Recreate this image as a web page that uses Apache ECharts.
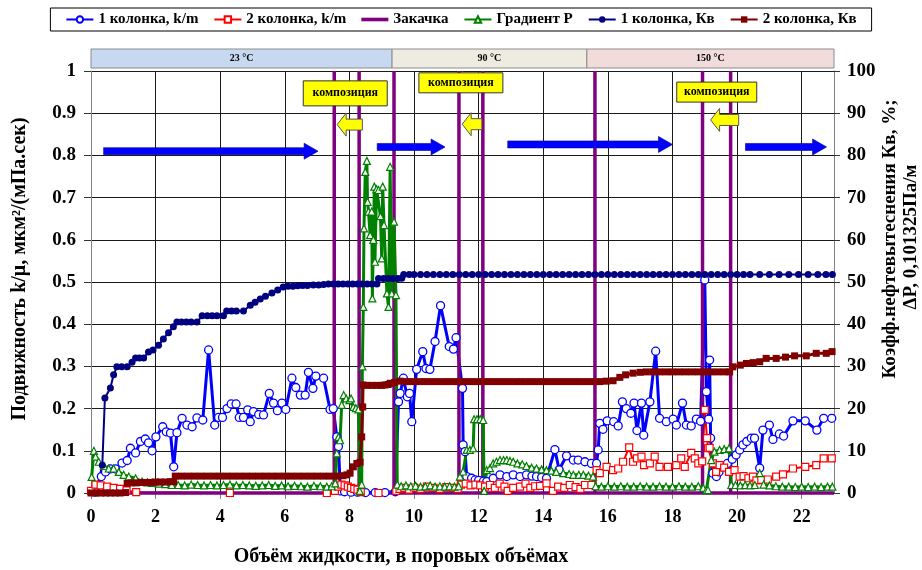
<!DOCTYPE html>
<html><head><meta charset="utf-8">
<script src="https://cdn.jsdelivr.net/npm/echarts/dist/echarts.min.js"></script>
<style>html,body{margin:0;padding:0;background:#fff}#c{width:922px;height:570px}</style>
</head><body><div id="c"></div>
<script>
const FF = 'Liberation Serif';
const seriesNames = ['1 колонка, k/m', '2 колонка, k/m', 'Закачка', 'Градиент P', '1 колонка, Кв', '2 колонка, Кв'];
const xTitle = 'Объём жидкости, в поровых объёмах';
const yLeftTitle = 'Подвижность k/μ, мкм²/(мПа.сек)';
const yRightTitle1 = 'Коэфф.нефтевытеснения Кв, %;';
const yRightTitle2 = 'ΔP, 0,101325Па/м';

// 1 колонка, k/m  (left axis)
const km1 = [[0.14,0.003],[0.32,0.039],[0.45,0.05],[0.6,0.057],[0.76,0.057],[0.96,0.071],[1.12,0.077],[1.22,0.106],[1.38,0.095],[1.53,0.122],[1.68,0.128],[1.78,0.119],[1.89,0.1],[2.01,0.133],[2.22,0.157],[2.33,0.145],[2.46,0.142],[2.56,0.062],[2.66,0.143],[2.82,0.177],[2.97,0.161],[3.13,0.157],[3.28,0.178],[3.46,0.173],[3.64,0.339],[3.83,0.161],[3.95,0.179],[4.07,0.179],[4.21,0.2],[4.34,0.211],[4.49,0.211],[4.59,0.179],[4.72,0.179],[4.85,0.197],[4.93,0.169],[5.03,0.193],[5.19,0.186],[5.34,0.185],[5.52,0.236],[5.65,0.213],[5.77,0.195],[5.91,0.213],[6.03,0.198],[6.22,0.272],[6.34,0.25],[6.48,0.232],[6.63,0.232],[6.73,0.286],[6.87,0.248],[6.96,0.277],[7.2,0.272],[7.4,0.198],[7.5,0.2],[7.61,0.133],[7.66,0.11],[7.72,0.005],[7.85,0.003],[8.05,0.002],[8.25,0.002],[8.5,0.001],[8.8,0.001],[9.1,0.001],[9.42,0.003],[9.52,0.216],[9.57,0.236],[9.67,0.272],[9.79,0.228],[9.86,0.236],[9.93,0.169],[10.08,0.293],[10.27,0.335],[10.37,0.295],[10.49,0.293],[10.65,0.359],[10.82,0.444],[11.09,0.347],[11.22,0.341],[11.3,0.368],[11.5,0.248],[11.52,0.114],[11.58,0.098],[11.63,0.039],[11.78,0.035],[11.89,0.031],[12.0,0.03],[12.15,0.028],[12.25,0.027],[12.45,0.035],[12.66,0.043],[12.87,0.039],[13.07,0.043],[13.28,0.039],[13.48,0.043],[13.65,0.04],[13.79,0.039],[13.95,0.037],[14.1,0.035],[14.36,0.103],[14.49,0.055],[14.72,0.088],[14.93,0.078],[15.08,0.078],[15.29,0.074],[15.49,0.07],[15.65,0.07],[15.7,0.102],[15.75,0.165],[15.85,0.151],[15.98,0.171],[16.18,0.169],[16.32,0.159],[16.45,0.216],[16.57,0.2],[16.71,0.189],[16.81,0.213],[16.9,0.148],[17.04,0.213],[17.11,0.137],[17.3,0.216],[17.48,0.336],[17.6,0.177],[17.81,0.169],[18.02,0.175],[18.12,0.161],[18.31,0.213],[18.43,0.161],[18.58,0.159],[18.74,0.175],[18.87,0.17],[19.0,0.505],[19.05,0.24],[19.12,0.175],[19.15,0.315],[19.18,0.13],[19.25,0.047],[19.36,0.039],[19.44,0.05],[19.56,0.062],[19.7,0.07],[19.85,0.08],[19.97,0.09],[20.08,0.102],[20.18,0.114],[20.3,0.122],[20.44,0.13],[20.54,0.13],[20.7,0.059],[20.8,0.149],[21.0,0.161],[21.11,0.127],[21.31,0.14],[21.44,0.135],[21.73,0.171],[22.11,0.171],[22.47,0.149],[22.68,0.177],[22.93,0.177]];

// 2 колонка, k/m  (left axis)
const km2 = [[0,0.005],[0.14,0.02],[0.3,0.018],[0.5,0.015],[0.7,0.012],[0.9,0.01],[1.1,0.006],[1.4,0.002],[4.3,0],[7.3,0],[7.55,0.005],[7.65,0.015],[7.75,0.02],[7.85,0.018],[7.95,0.015],[8.05,0.012],[8.15,0.01],[8.25,0.008],[8.35,0.002],[8.9,0],[9.45,0.005],[9.55,0.01],[9.7,0.012],[9.85,0.008],[10.0,0.013],[10.2,0.01],[10.4,0.015],[10.6,0.012],[10.8,0.01],[11.0,0.014],[11.2,0.012],[11.35,0.01],[11.45,0.02],[11.6,0.022],[11.75,0.018],[11.9,0.02],[12.05,0.018],[12.2,0.015],[12.35,0.019],[12.5,0.012],[12.65,0.022],[12.8,0.015],[12.9,0.005],[13.07,0.012],[13.28,0.015],[13.45,0.022],[13.6,0.012],[13.75,0.016],[13.9,0.017],[14.1,0.023],[14.3,0.005],[14.46,0.015],[14.65,0.012],[14.82,0.019],[15.0,0.014],[15.15,0.01],[15.29,0.019],[15.49,0.019],[15.65,0.054],[15.75,0.047],[15.96,0.062],[16.16,0.054],[16.32,0.058],[16.47,0.074],[16.66,0.108],[16.78,0.074],[16.9,0.082],[17.04,0.086],[17.12,0.066],[17.3,0.07],[17.45,0.086],[17.6,0.062],[17.86,0.062],[18.12,0.066],[18.27,0.082],[18.38,0.062],[18.58,0.095],[18.69,0.082],[18.8,0.07],[18.92,0.075],[19.0,0.197],[19.07,0.13],[19.1,0.106],[19.15,0.107],[19.25,0.07],[19.35,0.05],[19.46,0.066],[19.6,0.06],[19.75,0.05],[19.92,0.054],[20.08,0.039],[20.2,0.04],[20.35,0.035],[20.49,0.039],[20.6,0.03],[20.75,0.031],[20.95,0.032],[21.21,0.039],[21.42,0.044],[21.73,0.058],[22.11,0.062],[22.45,0.066],[22.68,0.082],[22.93,0.082]];

// Закачка: x positions of injection switches (left axis, 0..1)
const injectX = [7.53, 8.30, 9.38, 11.39, 12.13, 15.6, 18.93, 19.8];

// Градиент P (right axis)
const gradP = [[0.02,3.8],[0.09,10.0],[0.14,8.6],[0.24,7.4],[0.4,6.4],[0.55,5.8],[0.7,5.8],[0.86,5.0],[1.01,4.3],[1.17,3.9],[1.38,3.5],[1.58,2.7],[1.75,2.5],[1.89,2.4],[2.1,2.2],[2.3,2.1],[2.5,1.9],[2.7,1.9],[2.9,1.8],[3.1,2.0],[3.3,1.9],[3.5,1.8],[3.7,1.9],[3.9,1.8],[4.1,1.9],[4.3,2.0],[4.5,1.8],[4.7,1.9],[4.9,1.8],[5.1,1.7],[5.3,1.8],[5.5,1.9],[5.7,1.7],[5.9,1.8],[6.1,1.6],[6.3,1.7],[6.5,1.6],[6.7,1.5],[6.9,1.7],[7.1,1.6],[7.3,1.5],[7.45,1.6],[7.56,2.3],[7.61,9.4],[7.66,13.3],[7.71,12.5],[7.76,20.9],[7.82,23.2],[7.9,22.4],[8.0,22.0],[8.05,22.4],[8.12,20.4],[8.2,20.1],[8.28,19.8],[8.32,0.5],[8.38,2.0],[8.4,30.0],[8.43,44.1],[8.45,62.7],[8.49,76.1],[8.54,78.7],[8.56,69.0],[8.59,66.7],[8.64,61.1],[8.69,66.7],[8.71,46.1],[8.74,60.0],[8.77,72.6],[8.79,54.8],[8.84,72.0],[8.9,71.8],[8.96,65.6],[9.0,55.6],[9.03,72.6],[9.07,63.5],[9.16,47.3],[9.21,44.1],[9.26,77.3],[9.31,47.3],[9.38,64.3],[9.44,46.9],[9.48,2.0],[9.6,1.6],[9.75,1.8],[9.9,1.6],[10.05,1.7],[10.2,1.5],[10.35,1.6],[10.5,1.8],[10.65,1.5],[10.8,1.6],[10.95,1.5],[11.1,1.6],[11.25,1.5],[11.38,1.6],[11.42,3.9],[11.52,5.1],[11.63,10.2],[11.73,10.2],[11.83,10.6],[11.86,17.5],[11.95,17.5],[12.05,17.5],[12.14,17.3],[12.17,0.5],[12.25,5.4],[12.35,5.9],[12.45,7.0],[12.55,7.4],[12.66,7.8],[12.77,7.8],[12.87,7.8],[12.97,7.6],[13.07,7.4],[13.2,7.0],[13.35,6.8],[13.48,6.4],[13.64,6.0],[13.79,5.8],[13.95,5.6],[14.1,5.4],[14.25,5.3],[14.4,5.0],[14.62,4.7],[14.8,4.5],[14.93,4.3],[15.1,4.3],[15.24,4.3],[15.4,4.1],[15.54,3.9],[15.62,1.6],[15.8,1.5],[16.0,1.6],[16.2,1.5],[16.4,1.6],[16.6,1.5],[16.8,1.5],[17.0,1.6],[17.2,1.5],[17.4,1.5],[17.6,1.6],[17.8,1.5],[18.0,1.5],[18.2,1.6],[18.4,1.5],[18.6,1.5],[18.8,1.6],[18.95,1.2],[19.05,0.7],[19.1,0.7],[19.2,7.8],[19.3,9.8],[19.46,10.2],[19.6,10.4],[19.75,10.6],[19.82,1.9],[19.95,1.9],[20.1,1.8],[20.25,1.9],[20.4,1.8],[20.55,1.9],[20.7,4.7],[20.82,2.0],[21.0,1.8],[21.2,1.6],[21.4,1.5],[21.6,1.5],[21.8,1.4],[22.0,1.5],[22.2,1.4],[22.4,1.5],[22.6,1.4],[22.8,1.5],[22.95,1.5]];

// 1 колонка, Кв (right axis, %)
const kv1 = [[0.14,0],[0.35,6.6],[0.43,22.5],[0.6,24.9],[0.7,28],[0.8,29.9],[0.95,29.9],[1.12,29.9],[1.27,31],[1.38,32],[1.5,32],[1.63,32],[1.78,33.4],[1.92,33.9],[2.09,35],[2.24,36.5],[2.4,38],[2.55,39.4],[2.66,40.5],[2.8,40.5],[2.95,40.5],[3.1,40.5],[3.28,40.5],[3.44,42],[3.6,42],[3.75,42],[3.9,42],[4.1,42],[4.2,43.1],[4.35,43.1],[4.5,43.1],[4.72,43.1],[4.93,44.5],[5.08,45.2],[5.24,46],[5.4,46.6],[5.6,47.4],[5.78,48.1],[5.95,48.8],[6.1,49],[6.25,49],[6.4,49.1],[6.55,49.2],[6.7,49.2],[6.88,49.3],[7.05,49.3],[7.2,49.4],[7.35,49.5],[7.5,49.5],[7.65,49.5],[7.8,49.5],[7.95,49.5],[8.1,49.5],[8.25,49.5],[8.4,49.5],[8.55,49.5],[8.7,49.5],[8.85,49.5],[8.9,50.8],[9.05,50.8],[9.2,50.8],[9.35,50.8],[9.5,50.8],[9.62,50.9],[9.68,51.8],[9.85,51.8],[10.0,51.8],[10.2,51.8],[10.4,51.8],[10.6,51.8],[10.8,51.8],[11.0,51.8],[11.2,51.8],[11.4,51.8],[11.6,51.8],[11.8,51.8],[12.0,51.8],[12.2,51.8],[12.4,51.8],[12.6,51.8],[12.8,51.8],[13.0,51.8],[13.2,51.8],[13.4,51.8],[13.6,51.8],[13.8,51.8],[14.0,51.8],[14.2,51.8],[14.4,51.8],[14.6,51.8],[14.8,51.8],[15.0,51.8],[15.2,51.8],[15.4,51.8],[15.6,51.8],[15.8,51.8],[16.0,51.8],[16.2,51.8],[16.4,51.8],[16.6,51.8],[16.8,51.8],[17.0,51.8],[17.2,51.8],[17.4,51.8],[17.6,51.8],[17.8,51.8],[18.0,51.8],[18.2,51.8],[18.4,51.8],[18.6,51.8],[18.8,51.8],[19.0,51.8],[19.2,51.8],[19.4,51.8],[19.6,51.8],[19.8,51.8],[20.0,51.8],[20.2,51.8],[20.4,51.8],[20.7,51.8],[21.0,51.8],[21.3,51.8],[21.6,51.8],[21.9,51.8],[22.2,51.8],[22.5,51.8],[22.75,51.8],[22.95,51.8]];

// 2 колонка, Кв (right axis, %)
const kv2 = [[0,0],[0.15,0],[0.3,0],[0.45,0],[0.6,0],[0.75,0],[0.9,0],[1.07,0.1],[1.12,2.3],[1.25,2.4],[1.4,2.4],[1.55,2.5],[1.7,2.5],[1.85,2.5],[2.0,2.6],[2.15,2.6],[2.3,2.6],[2.45,2.7],[2.56,2.7],[2.61,4.0],[2.8,4.0],[3.0,4.0],[3.2,4.0],[3.4,4.0],[3.6,4.0],[3.8,4.0],[4.0,4.0],[4.2,4.0],[4.4,4.0],[4.6,4.0],[4.8,4.0],[5.0,4.0],[5.2,4.0],[5.4,4.0],[5.6,4.0],[5.8,4.0],[6.0,4.0],[6.2,4.0],[6.4,4.0],[6.6,4.0],[6.8,4.0],[7.0,4.0],[7.2,4.0],[7.4,4.0],[7.6,4.0],[7.8,4.1],[7.92,4.3],[8.02,4.7],[8.12,6.2],[8.23,7.0],[8.33,7.3],[8.38,13.3],[8.41,20.4],[8.42,25.6],[8.55,25.5],[8.7,25.5],[8.85,25.5],[9.0,25.5],[9.1,25.6],[9.2,25.7],[9.26,26.0],[9.4,26.2],[9.57,26.5],[9.75,26.4],[9.95,26.4],[10.15,26.4],[10.35,26.4],[10.55,26.4],[10.75,26.4],[10.95,26.4],[11.15,26.4],[11.35,26.4],[11.55,26.4],[11.75,26.4],[11.95,26.4],[12.15,26.4],[12.35,26.4],[12.55,26.4],[12.75,26.4],[12.95,26.4],[13.15,26.4],[13.35,26.4],[13.55,26.4],[13.75,26.4],[13.95,26.4],[14.15,26.4],[14.35,26.4],[14.55,26.4],[14.75,26.4],[14.95,26.4],[15.15,26.4],[15.35,26.4],[15.55,26.4],[15.75,26.4],[15.95,26.5],[16.16,26.6],[16.37,27.4],[16.55,28.0],[16.78,28.4],[17.0,28.6],[17.19,28.7],[17.4,28.7],[17.6,28.7],[17.8,28.7],[18.0,28.7],[18.2,28.7],[18.4,28.7],[18.6,28.7],[18.8,28.7],[19.0,28.7],[19.2,28.7],[19.4,28.7],[19.6,28.7],[19.77,28.7],[19.87,29.9],[20.1,30.3],[20.29,30.7],[20.5,30.9],[20.7,31.1],[20.9,31.9],[21.21,31.9],[21.5,32.2],[21.78,32.5],[22.14,32.5],[22.45,33.1],[22.76,33.1],[22.94,33.5]];

// annotations (data coordinates: x, left-axis value)
const tempBands = [
  {from: 0, to: 9.32, label: '23 °C', color: '#c6d9f1'},
  {from: 9.32, to: 15.35, label: '90 °C', color: '#eeece1'},
  {from: 15.35, to: 23, label: '150 °C', color: '#f2dcdb'}
];
const compBoxes = [{x: 7.87, y: 0.947, w: 84, h: 25}, {x: 11.45, y: 0.972, w: 84, h: 20}, {x: 19.37, y: 0.95, w: 80, h: 20}];
const compText = 'композиция';
const yellowArrows = [{x1: 7.62, x2: 8.4, y: 0.873}, {x1: 11.49, x2: 12.1, y: 0.874}, {x1: 19.18, x2: 20.05, y: 0.884}];
const blueArrows = [{x1: 0.39, x2: 7.03, y: 0.81}, {x1: 8.86, x2: 10.96, y: 0.82}, {x1: 12.9, x2: 18.0, y: 0.826}, {x1: 20.26, x2: 22.77, y: 0.82}];

const injection = [[0, 0]];
injectX.forEach(x => injection.push([x, 0], [x, 1], [x, 0]));
injection.push([23, 0]);

const lblFont = {fontFamily: FF, fontWeight: 'bold', color: '#000'};
const legendData = seriesNames.map((n, i) => i === 2 ? {name: n, icon: 'path://M0,0 L26,0 L26,3.5 L0,3.5 Z'} : {name: n});

const chart = echarts.init(document.getElementById('c'));
chart.setOption({
  animation: false,
  backgroundColor: '#fff',
  grid: {left: 91, right: 88, top: 71, bottom: 77, containLabel: false, outerBoundsMode: 'none'},
  legend: {
    top: 8, left: 'center', orient: 'horizontal',
    borderColor: '#000', borderWidth: 1, padding: [4, 15], itemGap: 15,
    itemWidth: 27, itemHeight: 8,
    textStyle: Object.assign({fontSize: 15}, lblFont),
    data: legendData
  },
  xAxis: {
    type: 'value', min: 0, max: 23, interval: 2,
    axisLine: {show: true, onZero: false, lineStyle: {color: '#808080', width: 1}},
    axisTick: {show: true, inside: false, length: 6, lineStyle: {color: '#808080'}},
    axisLabel: Object.assign({fontSize: 18, margin: 15, showMaxLabel: false}, lblFont),
    splitLine: {show: true, lineStyle: {color: '#1a1a1a', width: 1}}
  },
  yAxis: [{
    type: 'value', min: 0, max: 1, interval: 0.1, position: 'left',
    axisLine: {show: true, lineStyle: {color: '#808080', width: 1}},
    axisTick: {show: true, inside: false, length: 7, lineStyle: {color: '#333'}},
    axisLabel: Object.assign({fontSize: 19, margin: 15}, lblFont),
    splitLine: {show: true, lineStyle: {color: '#1a1a1a', width: 1}}
  }, {
    type: 'value', min: 0, max: 100, interval: 10, position: 'right',
    axisLine: {show: true, lineStyle: {color: '#808080', width: 1}},
    axisTick: {show: true, inside: false, length: 6, lineStyle: {color: '#333'}},
    axisLabel: Object.assign({fontSize: 19, margin: 13}, lblFont),
    splitLine: {show: false}
  }],
  series: [
    {name: seriesNames[0], type: 'line', yAxisIndex: 0, data: km1, symbol: 'circle', symbolSize: 8,
     lineStyle: {color: '#0000ff', width: 3}, itemStyle: {color: '#fff', borderColor: '#0000ff', borderWidth: 1.3}, color: '#0000ff'},
    {name: seriesNames[1], type: 'line', yAxisIndex: 0, data: km2, symbol: 'rect', symbolSize: 7,
     lineStyle: {color: '#ff0000', width: 2}, itemStyle: {color: '#fff', borderColor: '#ff0000', borderWidth: 1.2}, color: '#ff0000'},
    {name: seriesNames[2], type: 'line', yAxisIndex: 0, data: injection, symbol: 'none', clip: false,
     lineStyle: {color: '#800080', width: 3.5}, itemStyle: {color: '#800080'}, color: '#800080'},
    {name: seriesNames[3], type: 'line', yAxisIndex: 1, data: gradP, symbol: 'triangle', symbolSize: 7,
     lineStyle: {color: '#008000', width: 3}, itemStyle: {color: '#fff', borderColor: '#008000', borderWidth: 1.2}, color: '#008000'},
    {name: seriesNames[4], type: 'line', yAxisIndex: 1, data: kv1, symbol: 'circle', symbolSize: 7,
     lineStyle: {color: '#000080', width: 2}, itemStyle: {color: '#000080'}, color: '#000080'},
    {name: seriesNames[5], type: 'line', yAxisIndex: 1, data: kv2, symbol: 'rect', symbolSize: 7,
     lineStyle: {color: '#800000', width: 3}, itemStyle: {color: '#800000'}, color: '#800000'}
  ]
});

const px = x => chart.convertToPixel({xAxisIndex: 0}, x);
const py = y => chart.convertToPixel({yAxisIndex: 0}, y);
const g = [];
const plotTop = py(1);
tempBands.forEach(b => {
  const a = px(b.from), c = px(b.to);
  g.push({type: 'rect', shape: {x: a, y: plotTop - 22, width: c - a, height: 19}, style: {fill: b.color, stroke: '#8c8c8c', lineWidth: 1}, z: 20});
  g.push({type: 'text', x: (a + c) / 2, y: plotTop - 12.5, style: {text: b.label, font: 'bold 10px "' + FF + '"', fill: '#000', textAlign: 'center', textVerticalAlign: 'middle'}, z: 21});
});
blueArrows.forEach(a => {
  const x1 = px(a.x1), x2 = px(a.x2), y = py(a.y);
  g.push({type: 'polygon', shape: {points: [[x1, y - 3.5], [x2 - 14, y - 3.5], [x2 - 14, y - 8], [x2, y], [x2 - 14, y + 8], [x2 - 14, y + 3.5], [x1, y + 3.5]]},
    style: {fill: '#0000ff', stroke: '#00008b', lineWidth: 0.6}, z: 20});
});
yellowArrows.forEach(a => {
  const x1 = px(a.x1), x2 = px(a.x2), y = py(a.y);
  g.push({type: 'polygon', shape: {points: [[x1, y], [x1 + 9, y - 11.5], [x1 + 9, y - 5.5], [x2, y - 5.5], [x2, y + 5.5], [x1 + 9, y + 5.5], [x1 + 9, y + 11.5]]},
    style: {fill: '#ffff00', stroke: '#555', lineWidth: 1}, z: 20});
});
compBoxes.forEach(b => {
  const cx = px(b.x), cy = py(b.y);
  g.push({type: 'rect', shape: {x: cx - b.w / 2, y: cy - b.h / 2, width: b.w, height: b.h}, style: {fill: '#ffff00', stroke: '#333', lineWidth: 1}, z: 22});
  g.push({type: 'text', x: cx, y: cy, style: {text: compText, font: 'bold 12px "' + FF + '"', fill: '#000', textAlign: 'center', textVerticalAlign: 'middle'}, z: 23});
});
const bigFont = 'bold 20px "' + FF + '"';
const rightFont = 'bold 19px "' + FF + '"';
g.push({type: 'text', x: 401, y: 557, style: {text: xTitle, font: bigFont, fill: '#000', textAlign: 'center', textVerticalAlign: 'middle'}, z: 20});
g.push({type: 'text', x: 20, y: 269, rotation: Math.PI / 2, style: {text: yLeftTitle, font: bigFont, fill: '#000', textAlign: 'center', textVerticalAlign: 'middle'}, z: 20});
g.push({type: 'text', x: 890, y: 239, rotation: Math.PI / 2, style: {text: yRightTitle1, font: rightFont, fill: '#000', textAlign: 'center', textVerticalAlign: 'middle'}, z: 20});
g.push({type: 'text', x: 911, y: 237, rotation: Math.PI / 2, style: {text: yRightTitle2, font: rightFont, fill: '#000', textAlign: 'center', textVerticalAlign: 'middle'}, z: 20});
chart.setOption({graphic: g});
</script>
</body></html>
